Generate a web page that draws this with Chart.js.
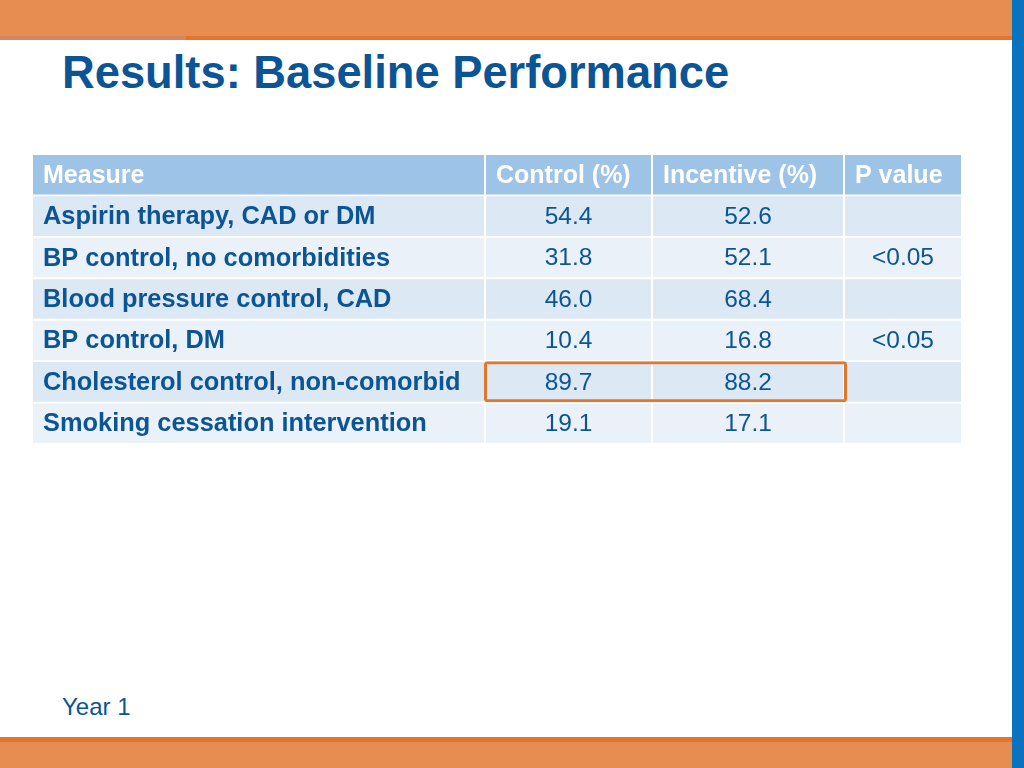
<!DOCTYPE html>
<html>
<head>
<meta charset="utf-8">
<script src="https://cdn.jsdelivr.net/npm/chart.js@4.4.1/dist/chart.umd.min.js"></script>
<style>
  html, body { margin:0; padding:0; background:#fff; }
  body { width:1024px; height:768px; position:relative; overflow:hidden; font-family:"Liberation Sans", Arial, sans-serif; }
  .band { position:absolute; }
  #title { position:absolute; left:62px; top:50px; font-size:45.3px; line-height:45px; font-weight:bold; color:#0b5596; white-space:nowrap; }
  #foot { position:absolute; left:62px; top:695px; font-size:24px; line-height:24px; color:#0b5596; white-space:nowrap; }
  canvas { position:absolute; left:0; top:0; }
</style>
</head>
<body>
<div class="band" style="left:0;top:0;width:1024px;height:36px;background:#E88D51"></div>
<div class="band" style="left:0;top:36px;width:1024px;height:4px;background:#E2742D"></div>
<div class="band" style="left:0;top:36px;width:186px;height:4px;background:#D38660"></div>
<div class="band" style="left:0;top:737px;width:1024px;height:5px;background:#E2742D"></div>
<div class="band" style="left:0;top:742px;width:1024px;height:26px;background:#E88D51"></div>
<div class="band" style="left:1012px;top:0;width:12px;height:768px;background:#0A72BE"></div>
<div id="title">Results: Baseline Performance</div>
<div id="foot">Year 1</div>
<canvas id="c" width="1024" height="768"></canvas>
<script>
// ---- data ----
const headers = ['Measure', 'Control (%)', 'Incentive (%)', 'P value'];
const measures = [
  'Aspirin therapy, CAD or DM',
  'BP control, no comorbidities',
  'Blood pressure control, CAD',
  'BP control, DM',
  'Cholesterol control, non-comorbid',
  'Smoking cessation intervention'
];
const controlPct = [54.4, 31.8, 46.0, 10.4, 89.7, 19.1];
const incentivePct = [52.6, 52.1, 68.4, 16.8, 88.2, 17.1];
const pValues = ['', '<0.05', '', '<0.05', '', ''];
const highlightedRow = 'Cholesterol control, non-comorbid';

// ---- layout (not data) ----
const colEdges = [[0, 451], [453, 618], [620, 810], [812, 928]];
const tableWidth = 928;
const rowLabels = ['__header__'].concat(measures);
const headerColor = '#9DC3E6';
const rowColors = ['#DCE8F3', '#EAF1F8'];
const textColor = '#0B5596';

const cellText = rowLabels.map((r, i) => {
  if (i === 0) return headers;
  const k = i - 1;
  return [measures[k], controlPct[k].toFixed(1), incentivePct[k].toFixed(1), pValues[k]];
});

const bg = rowLabels.map((r, i) => i === 0 ? headerColor : rowColors[(i - 1) % 2]);

const datasets = colEdges.map((edge, c) => ({
  label: 'col' + c,
  data: rowLabels.map(() => [edge[0], edge[1]]),
  backgroundColor: bg,
  borderWidth: 0,
  grouped: false,
  order: 1,
  barPercentage: 0.955,
  categoryPercentage: 1
}));
// highlight box around control & incentive of the highlighted row
datasets.push({
  label: 'highlight',
  data: rowLabels.map(r => r === highlightedRow ? [colEdges[0][1], colEdges[3][0] + 2] : null),
  backgroundColor: 'rgba(0,0,0,0)',
  borderColor: '#E0772F',
  borderWidth: 3,
  borderSkipped: false,
  borderRadius: 3,
  grouped: false,
  order: 0,
  barPercentage: 0.99,
  categoryPercentage: 1
});

const textPlugin = {
  id: 'cellText',
  afterDatasetsDraw(chart) {
    const ctx = chart.ctx;
    ctx.save();
    ctx.textBaseline = 'middle';
    for (let c = 0; c < colEdges.length; c++) {
      const meta = chart.getDatasetMeta(c);
      meta.data.forEach((el, r) => {
        const txt = cellText[r][c];
        if (!txt) return;
        const left = Math.min(el.x, el.base);
        const center = (el.x + el.base) / 2;
        if (r === 0) {
          ctx.font = 'bold 25px "Liberation Sans", Arial, sans-serif';
          ctx.fillStyle = '#FFFFFF';
          ctx.textAlign = 'left';
          ctx.fillText(txt, left + 10, el.y + 1);
        } else if (c === 0) {
          ctx.font = 'bold 25.4px "Liberation Sans", Arial, sans-serif';
          ctx.fillStyle = textColor;
          ctx.textAlign = 'left';
          ctx.fillText(txt, left + 10, el.y + 1);
        } else {
          ctx.font = '24.5px "Liberation Sans", Arial, sans-serif';
          ctx.fillStyle = textColor;
          ctx.textAlign = 'center';
          ctx.fillText(txt, center, el.y + 1);
        }
      });
    }
    ctx.restore();
  }
};

new Chart(document.getElementById('c'), {
  type: 'bar',
  data: { labels: rowLabels, datasets },
  options: {
    indexAxis: 'y',
    responsive: false,
    animation: false,
    layout: { padding: { left: 33, right: 1024 - 961, top: 154, bottom: 768 - 444 } },
    scales: {
      x: { type: 'linear', display: false, min: 0, max: tableWidth },
      y: { type: 'category', display: false }
    },
    plugins: { legend: { display: false }, tooltip: { enabled: false } }
  },
  plugins: [textPlugin]
});
</script>
</body>
</html>
